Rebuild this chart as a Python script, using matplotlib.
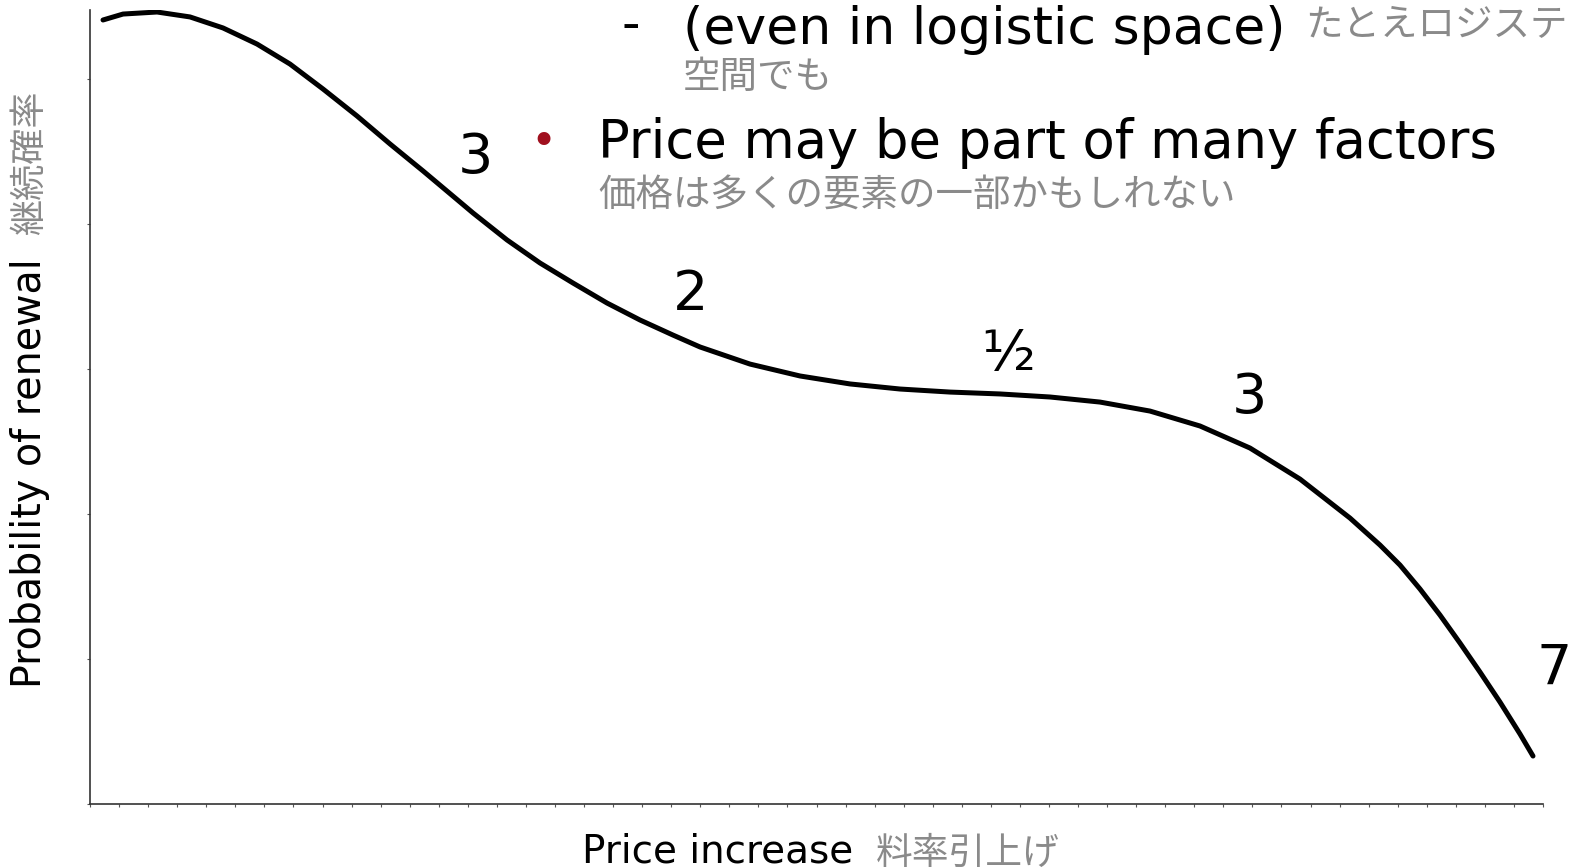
import numpy as np
import matplotlib.pyplot as plt

# curve (x: price increase, y: probability of renewal)
price = [0.447, 1.136, 2.306, 3.441, 4.577, 5.747, 6.882, 8.018, 9.188, 10.323,
         11.459, 12.629, 13.180, 14.350, 15.485, 16.621, 17.791, 18.926, 20.062,
         20.991, 22.712, 24.432, 26.153, 27.873, 29.594, 31.314, 33.035, 34.756,
         36.476, 38.197, 39.917, 41.638, 43.359, 44.391, 45.079, 45.767, 46.456,
         47.144, 47.832, 48.520, 49.209, 49.656]
renewal = [5.407, 5.448, 5.462, 5.428, 5.352, 5.241, 5.103, 4.931, 4.745, 4.552,
           4.366, 4.169, 4.076, 3.890, 3.731, 3.593, 3.455, 3.338, 3.234,
           3.152, 3.034, 2.952, 2.897, 2.862, 2.841, 2.828, 2.807, 2.772,
           2.710, 2.607, 2.455, 2.241, 1.972, 1.786, 1.648, 1.483, 1.303,
           1.110, 0.910, 0.703, 0.483, 0.331]

# slope labels along the curve
label_x = [13.25, 20.65, 31.6, 39.9, 50.4]
label_y = [4.455, 3.51, 3.10, 2.80, 0.93]
label_txt = ['3', '2', '½', '3', '7']

fam = ['DejaVu Sans', 'Noto Sans CJK JP']
jp = 'Noto Sans CJK JP'
grey = '#8a8a8a'

fig = plt.figure(figsize=(15.74, 8.68), dpi=100)
ax = fig.add_axes([0.0572, 0.0737, 0.9231, 0.9148])
ax.plot(price, renewal, color='black', lw=3.6, solid_capstyle='round',
        solid_joinstyle='round')
ax.set_xlim(0, 50)
ax.set_ylim(0, 5.476)
ax.set_yticks(range(6))
ax.set_xticks(np.arange(0, 51, 1))
ax.set_xticklabels([])
ax.set_yticklabels([])
ax.tick_params(length=2.5, width=0.8, color='#555555')
for s in ['top', 'right']:
    ax.spines[s].set_visible(False)
for s in ['left', 'bottom']:
    ax.spines[s].set_color('#333333')
    ax.spines[s].set_linewidth(1.2)

for x, y, t in zip(label_x, label_y, label_txt):
    ax.text(x, y, t, fontsize=40, family=fam, ha='center', va='center', clip_on=False)

# axis titles
fig.text(0.370, 0.0069, 'Price increase', fontsize=28, family=fam, ha='left', va='baseline')
fig.text(0.5565, 0.017, '料率引上げ', fontsize=26.5, family=jp, color=grey, ha='left', va='center')
fig.text(0.019, 0.207, 'Probability of renewal', fontsize=28.5, family=fam, rotation=90,
         ha='center', va='bottom')
fig.text(0.019, 0.729, '継続確率', fontsize=26, family=jp, color=grey, rotation=90,
         ha='center', va='bottom')

# slide bullets
fig.text(0.395, 0.954, '-', fontsize=37, family=fam, ha='left', va='baseline')
fig.text(0.434, 0.9493, '(even in logistic space)', fontsize=37.5, family=fam,
         ha='left', va='baseline')
fig.text(0.829, 0.970, 'たとえロジステ', fontsize=27, family=jp, color=grey, ha='left', va='center')
fig.text(0.434, 0.911, '空間でも', fontsize=27, family=jp, color=grey, ha='left', va='center')
fig.text(0.337, 0.8364, '•', fontsize=32, family=fam, color='#a0101e', ha='left', va='center')
fig.text(0.380, 0.818, 'Price may be part of many factors', fontsize=38, family=fam,
         ha='left', va='baseline')
fig.text(0.380, 0.775, '価格は多くの要素の一部かもしれない', fontsize=27, family=jp, color=grey,
         ha='left', va='center')

fig.savefig('out.png', dpi=100)
